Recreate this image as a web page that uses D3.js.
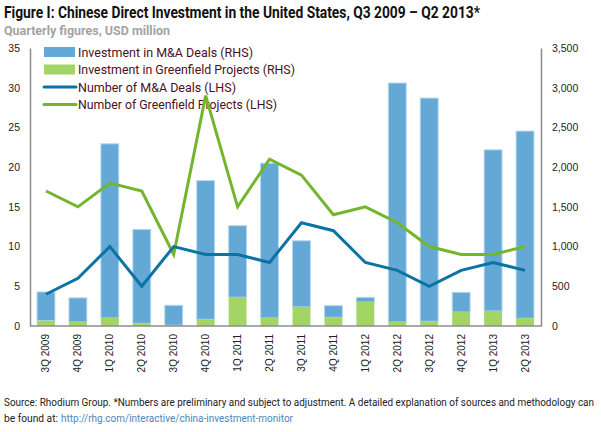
<!DOCTYPE html>
<html><head><meta charset="utf-8">
<script src="https://cdn.jsdelivr.net/npm/d3@7"></script>
<style>
body{margin:0;background:#fff;}
svg{display:block;}
</style></head>
<body><svg id="c" width="601" height="432"></svg>
<script>
const categories = ["3Q 2009","4Q 2009","1Q 2010","2Q 2010","3Q 2010","4Q 2010","1Q 2011","2Q 2011","3Q 2011","4Q 2011","1Q 2012","2Q 2012","3Q 2012","4Q 2012","1Q 2013","2Q 2013"];
const greenfieldInvest = [67,50,101,34,10,84,362,101,240,109,302,50,59,176,189,97];
const maInvest = [362,304,2193,1182,251,1747,901,1949,833,147,59,3009,2811,248,2029,2357];
const maDeals = [4,6,10,5,10,9,9,8,13,12,8,7,5,7,8,7];
const greenfieldProjects = [17,15,18,17,9,29,15,21,19,14,15,13,10,9,9,10];
const leftTicks = [0,5,10,15,20,25,30,35];
const rightTicks = [0,500,1000,1500,2000,2500,3000,3500];
const legendItems = [
  {label:"Investment in M&A Deals (RHS)", type:"bar", color:"#64a9d6", len:175},
  {label:"Investment in Greenfield Projects (RHS)", type:"bar", color:"#a2d565", len:217},
  {label:"Number of M&A Deals (LHS)", type:"line", color:"#0d73a5", len:158},
  {label:"Number of Greenfield Projects (LHS)", type:"line", color:"#74b52f", len:199}
];

const svg = d3.select("#c");
const L = 30, R = 541, T = 48, B = 326;
const cond = "Roboto,'Liberation Sans',sans-serif";
const x = d3.scaleBand().domain(categories).range([L, R]).paddingInner(0.44).paddingOuter(0.22);
const yL = d3.scaleLinear().domain([0,35]).range([B,T]);
const yR = d3.scaleLinear().domain([0,3500]).range([B,T]);

// title
svg.append("text").attr("x",4).attr("y",18).attr("font-family",cond).attr("font-weight","bold")
  .attr("font-size",16).attr("fill","#111").attr("textLength",476).attr("lengthAdjust","spacingAndGlyphs")
  .text("Figure I: Chinese Direct Investment in the United States, Q3 2009 – Q2 2013*");
svg.append("text").attr("x",4).attr("y",35).attr("font-family",cond).attr("font-weight","bold")
  .attr("font-size",12.5).attr("fill","#a3a3a3").attr("textLength",166).attr("lengthAdjust","spacingAndGlyphs")
  .text("Quarterly figures, USD million");

// bars
const bars = svg.append("g");
categories.forEach((c,i)=>{
  const g1 = greenfieldInvest[i], m1 = g1 + maInvest[i];
  bars.append("rect").attr("x",x(c)).attr("width",x.bandwidth())
    .attr("y",yR(m1)).attr("height",yR(g1)-yR(m1))
    .attr("fill","#64a9d6").attr("stroke","#b5d8ec").attr("stroke-width",1);
  bars.append("rect").attr("x",x(c)).attr("width",x.bandwidth())
    .attr("y",yR(g1)).attr("height",yR(0)-yR(g1))
    .attr("fill","#a2d565");
});

// axes
const axisColor = "#8c8c8c";
const gl = svg.append("g").attr("transform",`translate(${L},0)`)
  .call(d3.axisLeft(yL).tickValues(leftTicks).tickSize(0).tickPadding(10));
const gr = svg.append("g").attr("transform",`translate(${R},0)`)
  .call(d3.axisRight(yR).tickValues(rightTicks).tickSize(0).tickPadding(11).tickFormat(d3.format(",")));
const gb = svg.append("g").attr("transform",`translate(0,${B})`)
  .call(d3.axisBottom(x).tickSize(0).tickPadding(0));
[gl,gr,gb].forEach(g=>{
  g.select(".domain").attr("stroke",axisColor).attr("stroke-width",1.5);
  g.selectAll("text").attr("font-family","'Liberation Sans',Arial,sans-serif").attr("font-size",10.5).attr("fill","#222");
});
gb.select(".domain").attr("d",`M${L},0H${R}`);
gb.selectAll(".tick text").attr("transform","rotate(-90)").attr("text-anchor","end")
  .attr("font-size",10).attr("x",-8).attr("y",0).attr("dy","0.35em");

// legend
const lg = svg.append("g");
legendItems.forEach((d,i)=>{
  const yy = 52 + i*17.5;
  if(d.type==="bar"){
    lg.append("rect").attr("x",44).attr("y",yy-5).attr("width",31).attr("height",10).attr("fill",d.color);
  } else {
    lg.append("line").attr("x1",44).attr("x2",76).attr("y1",yy).attr("y2",yy).attr("stroke",d.color).attr("stroke-width",3).attr("stroke-linecap","round");
  }
  lg.append("text").attr("x",78).attr("y",yy).attr("dy","0.36em").attr("font-family",cond)
    .attr("font-size",13).attr("fill","#4d1020").attr("textLength",d.len).attr("lengthAdjust","spacingAndGlyphs").text(d.label);
});

// lines
const cx = c => x(c) + x.bandwidth()/2;
const line = d3.line().x((d,i)=>cx(categories[i])).y(d=>yL(d));
svg.append("path").datum(greenfieldProjects).attr("d",line).attr("fill","none")
  .attr("stroke","#74b52f").attr("stroke-width",3);
svg.append("path").datum(maDeals).attr("d",line).attr("fill","none")
  .attr("stroke","#0d73a5").attr("stroke-width",3);

// footer
svg.append("text").attr("x",4).attr("y",406).attr("font-family",cond).attr("font-size",10).attr("fill","#222")
  .attr("textLength",590).attr("lengthAdjust","spacingAndGlyphs")
  .text("Source: Rhodium Group. *Numbers are preliminary and subject to adjustment. A detailed explanation of sources and methodology can");
svg.append("text").attr("x",4).attr("y",421.5).attr("font-family",cond).attr("font-size",10).attr("fill","#222")
  .attr("textLength",54).attr("lengthAdjust","spacingAndGlyphs").text("be found at:");
svg.append("text").attr("x",61).attr("y",421.5).attr("font-family",cond).attr("font-size",10).attr("fill","#4f86b8")
  .attr("textLength",232).attr("lengthAdjust","spacingAndGlyphs").text("http://rhg.com/interactive/china-investment-monitor");
</script></body></html>
